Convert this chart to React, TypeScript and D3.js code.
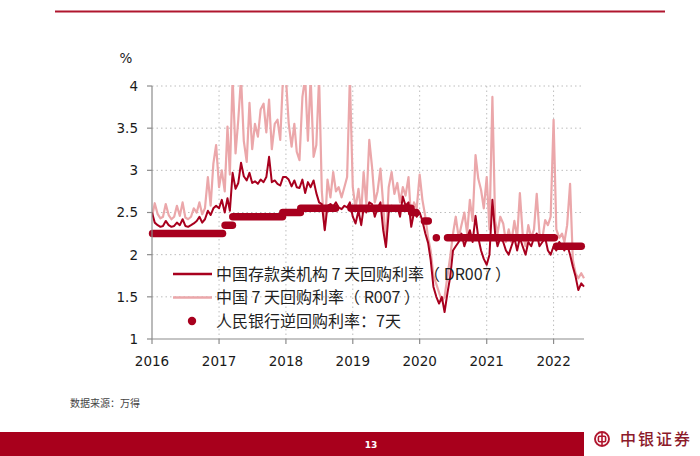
import React from "react";
import * as d3 from "d3";

// semi-monthly readings (1st and 16th of each month)
const startYear = 2016;

const r007_2016 = [2.45, 2.61, 2.48, 2.43, 2.45, 2.6, 2.47, 2.42, 2.45, 2.58, 2.46, 2.62, 2.44, 2.42, 2.45, 2.55, 2.5, 2.62, 2.48, 2.55, 2.92, 2.58, 3.08, 3.3];
const r007_2017 = [2.8, 3.0, 2.75, 3.52, 2.95, 4.1, 3.2, 3.6, 4.1, 3.35, 3.1, 3.8, 3.25, 3.55, 3.4, 3.72, 3.79, 3.45, 3.84, 3.25, 3.55, 3.6, 3.36, 4.1];
const r007_2018 = [4.1, 3.56, 3.28, 3.55, 3.22, 3.12, 3.87, 4.1, 3.35, 4.1, 3.16, 3.3, 4.1, 2.75, 2.3, 2.89, 2.68, 2.98, 2.75, 2.8, 2.68, 2.8, 2.92, 4.1];
const r007_2019 = [2.8, 2.55, 2.78, 2.5, 2.98, 2.6, 3.36, 3.04, 2.62, 2.75, 3.02, 2.6, 2.12, 2.8, 2.98, 2.72, 2.85, 2.62, 2.8, 2.7, 2.92, 2.4, 2.62, 2.55];
const r007_2020 = [2.95, 2.65, 2.45, 2.2, 2.05, 1.75, 1.65, 1.55, 1.45, 1.5, 1.75, 1.98, 2.25, 2.45, 2.2, 2.35, 2.5, 2.25, 2.65, 2.4, 3.18, 2.9, 2.77, 2.55];
const r007_2021 = [2.92, 2.3, 3.87, 2.4, 2.25, 2.45, 2.37, 2.15, 2.3, 2.15, 2.4, 2.2, 2.73, 2.25, 2.1, 2.35, 2.2, 2.3, 2.72, 2.25, 2.2, 2.41, 2.35, 2.45];
const r007_2022 = [3.6, 2.3, 2.2, 2.25, 2.15, 2.35, 2.84, 1.94, 1.78, 1.72, 1.78, 1.72];

const dr007_2016 = [2.5, 2.38, 2.35, 2.33, 2.34, 2.4, 2.35, 2.33, 2.34, 2.38, 2.35, 2.42, 2.34, 2.33, 2.35, 2.37, 2.4, 2.45, 2.38, 2.42, 2.52, 2.47, 2.55, 2.58];
const dr007_2017 = [2.55, 2.65, 2.5, 2.67, 2.52, 2.97, 2.78, 2.85, 3.09, 2.93, 2.88, 2.97, 2.85, 2.87, 2.84, 2.89, 2.86, 2.92, 3.16, 2.86, 2.88, 2.84, 2.82, 2.92];
const dr007_2018 = [2.92, 2.89, 2.81, 2.88, 2.8, 2.79, 2.89, 2.73, 2.86, 2.8, 2.88, 2.73, 2.62, 2.6, 2.29, 2.58, 2.6, 2.57, 2.62, 2.56, 2.54, 2.58, 2.56, 2.62];
const dr007_2019 = [2.45, 2.37, 2.52, 2.35, 2.55, 2.5, 2.62, 2.6, 2.45, 2.55, 2.62, 2.29, 2.09, 2.5, 2.58, 2.55, 2.57, 2.45, 2.69, 2.58, 2.62, 2.33, 2.5, 2.45];
const dr007_2020 = [2.5, 2.4, 2.25, 2.14, 1.94, 1.62, 1.5, 1.42, 1.5, 1.32, 1.55, 1.74, 2.05, 2.1, 2.15, 2.25, 2.1, 2.2, 2.29, 2.15, 2.46, 2.2, 2.05, 1.95];
const dr007_2021 = [1.88, 2.0, 2.65, 2.25, 2.1, 2.2, 2.15, 2.05, 2.0, 2.1, 2.2, 2.05, 2.2, 2.1, 2.0, 2.15, 2.1, 2.2, 2.25, 2.1, 2.15, 2.2, 2.05, 2.0];
const dr007_2022 = [2.1, 2.05, 2.15, 2.1, 2.05, 2.12, 2.0, 1.86, 1.74, 1.58, 1.66, 1.62];

// 7-day reverse repo operations: [from, to, rate]
const repoSegments: [string, string, number][] = [
  ["2016-01-04", "2017-01-20", 2.25],
  ["2017-02-03", "2017-03-15", 2.35],
  ["2017-03-17", "2017-12-13", 2.45],
  ["2017-12-15", "2018-03-21", 2.5],
  ["2018-03-23", "2018-09-29", 2.55],
  ["2018-12-22", "2019-11-15", 2.55],
  ["2019-11-18", "2019-12-13", 2.5],
  ["2020-01-27", "2020-02-17", 2.4],
  ["2020-04-01", "2020-04-01", 2.2],
  ["2020-06-01", "2022-01-05", 2.2],
  ["2022-01-17", "2022-06-01", 2.1],
];

const yearTicks = [2016, 2017, 2018, 2019, 2020, 2021, 2022];
const valueTicks = [1, 1.5, 2, 2.5, 3, 3.5, 4];

const legendItems = [
  { label: "中国存款类机构 7 天回购利率（ DR007 ）", kind: "dark" },
  { label: "中国 7 天回购利率（ R007 ）", kind: "light" },
  { label: "人民银行逆回购利率：7天", kind: "dot" },
];

const DARK = "#a8001e";
const LIGHT = "#eba7aa";
const GRID = "#bdbdbd";
const AXIS = "#8c8c8c";

const halfMonthDates = (n: number) =>
  d3.range(n).map((i) => new Date(startYear + Math.floor(i / 24), Math.floor((i % 24) / 2), i % 2 ? 16 : 1));

const r007 = [...r007_2016, ...r007_2017, ...r007_2018, ...r007_2019, ...r007_2020, ...r007_2021, ...r007_2022];
const dr007 = [...dr007_2016, ...dr007_2017, ...dr007_2018, ...dr007_2019, ...dr007_2020, ...dr007_2021, ...dr007_2022];
const dates = halfMonthDates(r007.length);

const margin = { top: 86, right: 116, bottom: 117, left: 152 };
const width = 700;
const height = 456;

export default function App() {
  const innerW = width - margin.left - margin.right;
  const innerH = height - margin.top - margin.bottom;

  const x = d3
    .scaleTime()
    .domain([new Date(2016, 0, 1), new Date(2022, 5, 16)])
    .range([margin.left, margin.left + innerW]);
  const y = d3.scaleLinear().domain([1, 4]).range([margin.top + innerH, margin.top]);

  const line = d3
    .line<number>()
    .x((_, i) => x(dates[i]))
    .y((d) => y(d))
    .curve(d3.curveLinear);

  const parse = d3.timeParse("%Y-%m-%d");
  const sans = "'DejaVu Sans', Verdana, sans-serif";
  const cjk = "'Noto Sans CJK SC', 'Noto Sans', sans-serif";

  return (
    <div style={{ position: "fixed", left: 0, top: 0 }}>
      <svg width={width} height={height} style={{ display: "block", background: "#fff" }}>
        <defs>
          <clipPath id="plot-clip">
            <rect x={margin.left} y={margin.top - 1} width={innerW + 2} height={innerH + 1} />
          </clipPath>
        </defs>

        {/* header rule */}
        <line x1={55} x2={665} y1={11.5} y2={11.5} stroke="#b0162e" strokeWidth={2} />

        {/* grid */}
        {valueTicks.slice(1).map((v) => (
          <line key={"h" + v} x1={margin.left} x2={margin.left + innerW} y1={y(v)} y2={y(v)}
            stroke={GRID} strokeWidth={1} strokeDasharray="1.5,3" />
        ))}
        {yearTicks.slice(1).map((yr) => (
          <line key={"v" + yr} x1={x(new Date(yr, 0, 1))} x2={x(new Date(yr, 0, 1))} y1={margin.top} y2={margin.top + innerH}
            stroke={GRID} strokeWidth={1} strokeDasharray="1.5,3" />
        ))}

        {/* series */}
        <g clipPath="url(#plot-clip)">
          <path d={line(r007) || ""} fill="none" stroke={LIGHT} strokeWidth={2.2} strokeLinejoin="round" />
          <path d={line(dr007) || ""} fill="none" stroke={DARK} strokeWidth={2} strokeLinejoin="round" />
        </g>
        {repoSegments.map(([a, b, r], i) => (
          <line key={"s" + i} x1={x(parse(a)!)} x2={x(parse(b)!)} y1={y(r)} y2={y(r)}
            stroke={DARK} strokeWidth={7.5} strokeLinecap="round" />
        ))}

        {/* axes */}
        <line x1={margin.left} x2={margin.left} y1={margin.top} y2={margin.top + innerH} stroke={AXIS} strokeWidth={1.2} />
        <line x1={margin.left} x2={margin.left + innerW} y1={margin.top + innerH} y2={margin.top + innerH} stroke={AXIS} strokeWidth={1.2} />
        {valueTicks.map((v) => (
          <g key={"yt" + v}>
            <line x1={margin.left - 5} x2={margin.left} y1={y(v)} y2={y(v)} stroke={AXIS} strokeWidth={1.2} />
            <text x={margin.left - 14} y={y(v)} dy="0.36em" textAnchor="end" fontFamily={sans} fontSize={13.5} fill="#1a1a1a">
              {v}
            </text>
          </g>
        ))}
        {yearTicks.map((yr) => (
          <g key={"xt" + yr}>
            <line x1={x(new Date(yr, 0, 1))} x2={x(new Date(yr, 0, 1))} y1={margin.top + innerH} y2={margin.top + innerH + 5}
              stroke={AXIS} strokeWidth={1.2} />
            <text x={x(new Date(yr, 0, 1))} y={366} textAnchor="middle" fontFamily={sans} fontSize={13.5} fill="#1a1a1a">
              {yr}
            </text>
          </g>
        ))}
        <text x={126} y={63} textAnchor="middle" fontFamily={sans} fontSize={13.5} fill="#1a1a1a">%</text>

        {/* legend */}
        {legendItems.map((item, i) => {
          const ly = 274 + i * 23.5;
          return (
            <g key={item.label}>
              {item.kind === "dot" ? (
                <circle cx={192} cy={ly} r={4.2} fill={DARK} />
              ) : (
                <line x1={173} x2={212} y1={ly} y2={ly} stroke={item.kind === "dark" ? DARK : LIGHT} strokeWidth={2.5} />
              )}
              <text x={216} y={ly} dy="0.36em" fontFamily={cjk} fontSize={16} fill="#1f1f1f">
                {item.label}
              </text>
            </g>
          );
        })}

        {/* footer */}
        <text x={70} y={403} dy="0.35em" fontFamily={cjk} fontSize={10} fill="#444">数据来源：万得</text>
        <rect x={0} y={432} width={584} height={24} fill="#a8001c" />
        <text x={371} y={445} dy="0.35em" textAnchor="middle" fontFamily={sans} fontSize={9} fontWeight="bold" fill="#fff">13</text>
        <g transform="translate(602,439)" stroke="#b0162e" fill="none">
          <circle r={7} strokeWidth={1.9} />
          <rect x={-3.6} y={-2.8} width={7.2} height={5.6} rx={1.2} strokeWidth={1.6} />
          <line x1={0} x2={0} y1={-6.5} y2={6.5} strokeWidth={1.6} />
        </g>
        <text x={620} y={439} dy="0.36em" fontFamily={cjk} fontSize={16} fontWeight={500} fill="#8c1a2a" letterSpacing={2}>中银证券</text>
      </svg>
    </div>
  );
}
